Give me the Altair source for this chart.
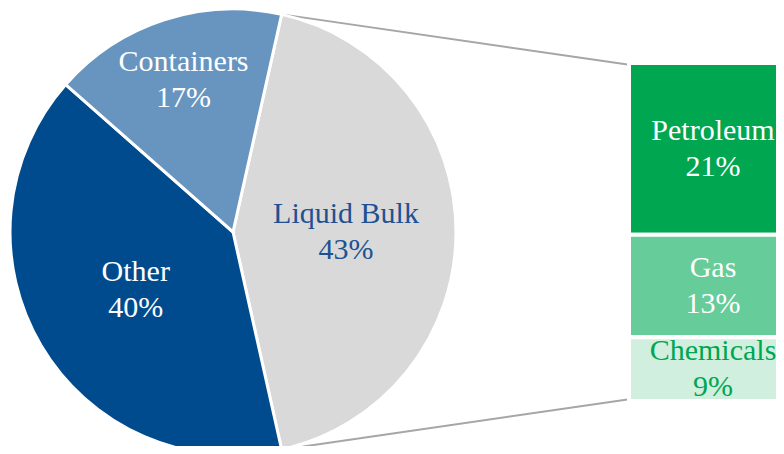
import math
import altair as alt
import pandas as pd

# ---- data ----
pie_categories = ["Liquid Bulk", "Other", "Containers"]
pie_values = [43, 40, 17]
pie_colors = ["#D9D9D9", "#004B8D", "#6795BF"]

sub_categories = ["Petroleum", "Gas", "Chemicals"]
sub_values = [21.8, 13.0, 8.1]          # bar heights
sub_labels = ["21%", "13%", "9%"]
sub_colors = ["#00A650", "#66CC99", "#D1EFDF"]

# ---- layout ----
W, H = 768, 438
CX, CY, R = 225, 224, 223
FONT = "Times New Roman"
FS = 30
LH = 36
DY = -LH / 2
BAR_X0, BAR_X1 = 621, 789
BAR_TOP, BAR_BOT = 55, 393

pie = pd.DataFrame({
    "category": pie_categories,
    "value": pie_values,
    "order": list(range(len(pie_categories))),
})
sub = pd.DataFrame({
    "category": sub_categories,
    "value": sub_values,
    "pct": sub_labels,
    "order": list(range(len(sub_categories))),
})

total = sum(pie_values)
# first slice centred on the right-hand side (3 o'clock)
offset = math.pi / 2 - math.pi * pie_values[0] / total
theta_scale = alt.Scale(domain=[0, total], range=[offset, offset + 2 * math.pi])

base_pie = alt.Chart(pie).encode(
    theta=alt.Theta("value:Q", stack=True, scale=theta_scale),
    order=alt.Order("order:Q"),
    x=alt.value(CX),
    y=alt.value(CY),
)

arcs = base_pie.mark_arc(radius=R, stroke="white", strokeWidth=3).encode(
    color=alt.Color("category:N",
                    scale=alt.Scale(domain=pie_categories, range=pie_colors),
                    legend=None)
)

txt_color = alt.condition("datum.category == 'Liquid Bulk'",
                          alt.value("#1F5192"), alt.value("white"))

labels_inner = base_pie.transform_calculate(
    lbl="datum.category == 'Containers' ? '' : datum.category + '\\n' + datum.value + '%'"
).mark_text(radius=113, font=FONT, fontSize=FS, lineBreak="\n", lineHeight=LH,
            dy=DY, align="center", baseline="middle").encode(
    text="lbl:N", color=txt_color)

labels_outer = base_pie.transform_calculate(
    lbl="datum.category == 'Containers' ? datum.category + '\\n' + datum.value + '%' : ''"
).mark_text(radius=160, font=FONT, fontSize=FS, lineBreak="\n", lineHeight=LH,
            dy=DY, align="center", baseline="middle").encode(
    text="lbl:N", color=txt_color)

# ---- stacked breakdown bar ----
sub_total = sum(sub_values)
y_scale = alt.Scale(domain=[0, sub_total], range=[BAR_BOT, BAR_TOP])

bar_base = alt.Chart(sub).transform_stack(
    stack="value", groupby=[], as_=["y0", "y1"],
    sort=[alt.SortField("order", order="descending")]
).transform_calculate(mid="(datum.y0 + datum.y1) / 2")

bars = bar_base.mark_bar(stroke="white", strokeWidth=4, clip=True).encode(
    x=alt.value(BAR_X0), x2=alt.value(BAR_X1),
    y=alt.Y("y0:Q", scale=y_scale, axis=None), y2="y1:Q",
    fill=alt.Fill("category:N",
                  scale=alt.Scale(domain=sub_categories, range=sub_colors),
                  legend=None),
)

bar_text = bar_base.transform_calculate(
    lbl="datum.category + '\\n' + datum.pct"
).mark_text(font=FONT, fontSize=FS, lineBreak="\n", lineHeight=LH,
            dy=DY, align="center", baseline="middle").encode(
    x=alt.value(705),
    y=alt.Y("mid:Q", scale=y_scale, axis=None),
    text="lbl:N",
    color=alt.condition("datum.category == 'Chemicals'",
                        alt.value("#00A650"), alt.value("white")),
)

# ---- connector lines from the Liquid Bulk slice to the bar ----
one = pd.DataFrame({"k": [0]})
a_top = offset
a_bot = offset + 2 * math.pi * pie_values[0] / total
top_pt = (CX + R * math.sin(a_top), CY - R * math.cos(a_top))
bot_pt = (CX + R * math.sin(a_bot), CY - R * math.cos(a_bot))
bar_left = BAR_X0 + 2

rule_top = alt.Chart(one).mark_rule(color="#A6A6A6", strokeWidth=2).encode(
    x=alt.value(top_pt[0]), y=alt.value(top_pt[1]),
    x2=alt.value(bar_left), y2=alt.value(BAR_TOP + 2))
rule_bot = alt.Chart(one).mark_rule(color="#A6A6A6", strokeWidth=2).encode(
    x=alt.value(bot_pt[0]), y=alt.value(bot_pt[1]),
    x2=alt.value(bar_left), y2=alt.value(BAR_BOT - 2))

chart = alt.layer(
    rule_top, rule_bot, arcs, labels_inner, labels_outer, bars, bar_text
).properties(
    width=W, height=H, padding=0,
    autosize=alt.AutoSizeParams(type="none"),
).configure_view(stroke=None).configure_text(font=FONT)

chart.save("out.html", embed_options={"renderer": "svg", "actions": False})
